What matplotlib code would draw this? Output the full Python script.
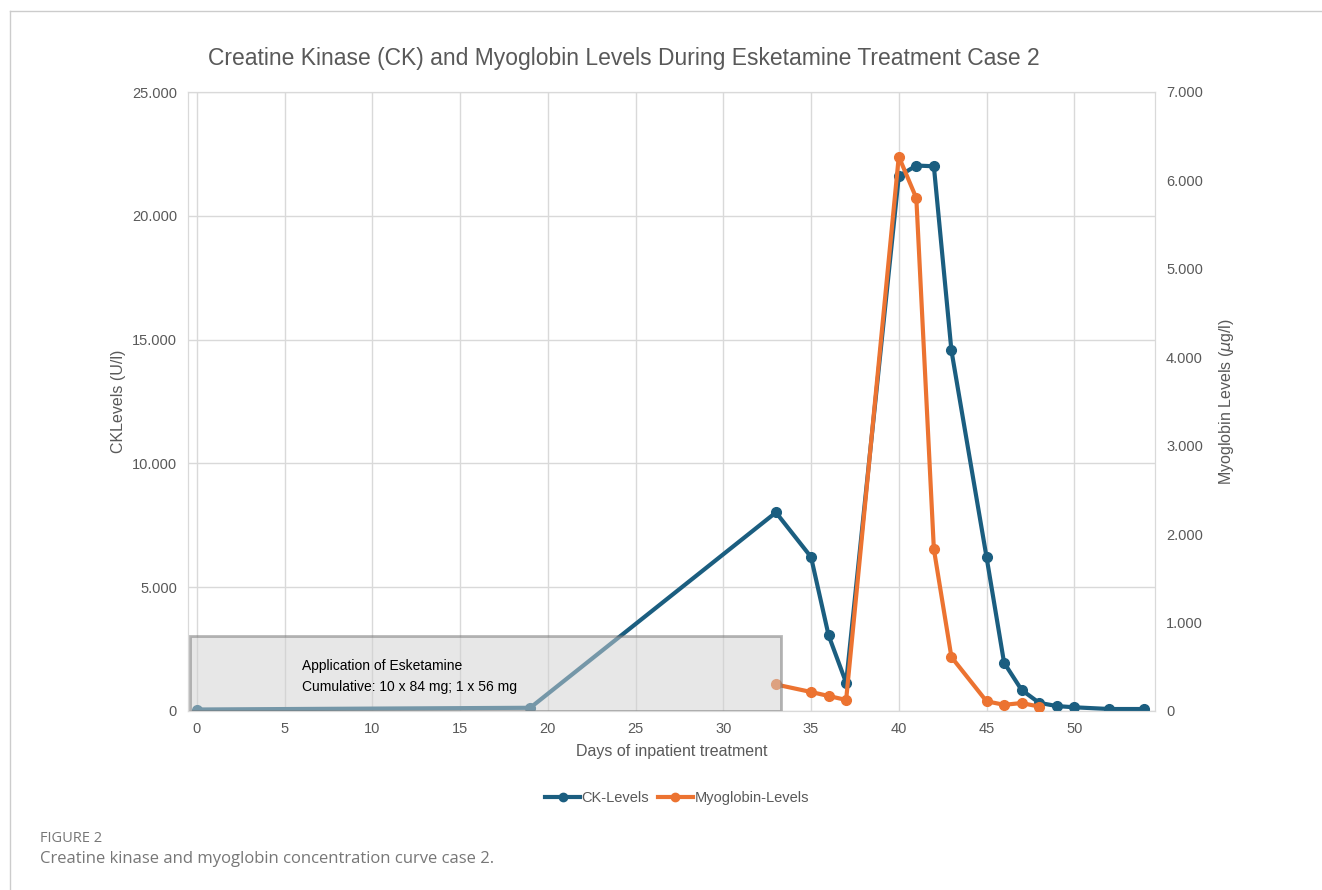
import matplotlib.pyplot as plt
from matplotlib.ticker import FuncFormatter
from matplotlib.patches import Rectangle
from matplotlib.lines import Line2D

plt.rcParams['font.family'] = ['Liberation Sans', 'DejaVu Sans']

# CK levels (U/l)
ck_days = [0, 19, 33, 35, 36, 37, 40, 41, 42, 43, 45, 46, 47, 48, 49, 50, 52, 54]
ck_vals = [60, 130, 8020, 6220, 3060, 1140, 21600, 22030, 22000, 14560, 6220,
           1950, 850, 330, 200, 150, 80, 80]

# Myoglobin levels (ug/l)
myo_days = [33, 35, 36, 37, 40, 41, 42, 43, 45, 46, 47, 48]
myo_vals = [300, 215, 170, 125, 6270, 5800, 1830, 610, 110, 70, 90, 50]

ck_color = '#1b5e80'
myo_color = '#ec7331'
txt = '#595959'
grid_c = '#d9d9d9'

fig = plt.figure(figsize=(13.22, 8.9), dpi=100)
ax = fig.add_axes([188 / 1322, 1 - 711 / 890, (1155 - 188) / 1322, (711 - 92) / 890])
ax2 = ax.twinx()

ax.plot(ck_days, ck_vals, color=ck_color, lw=3, marker='o', ms=7, zorder=3)
ax2.plot(myo_days, myo_vals, color=myo_color, lw=3, marker='o', ms=7, zorder=3)

ax.set_xlim(-0.5, 54.6)
ax.set_ylim(0, 25000)
ax2.set_ylim(0, 7000)
ax.set_xticks(range(0, 55, 5))
ax.set_yticks(range(0, 25001, 5000))
ax2.set_yticks(range(0, 7001, 1000))

fmt = FuncFormatter(lambda v, p: '0' if v == 0 else f'{int(v):,}'.replace(',', '.'))
ax.yaxis.set_major_formatter(fmt)
ax2.yaxis.set_major_formatter(fmt)

ax.grid(True, color=grid_c, lw=1)
ax.set_axisbelow(True)
for a in (ax, ax2):
    for s in a.spines.values():
        s.set_color(grid_c)
    a.tick_params(length=0, labelsize=10.5, colors=txt, pad=8)

ax.set_xlabel('Days of inpatient treatment', fontsize=11.5, color=txt, labelpad=6)
ax.set_ylabel('CKLevels (U/l)', fontsize=11.5, color=txt, labelpad=4)
ax2.set_ylabel('Myoglobin Levels ($\\mu$g/l)', fontsize=11.5, color=txt, labelpad=10)

# esketamine application box, drawn over the lines (semi-transparent)
box = Rectangle((-0.4, 0), 33.7, 3030, transform=ax.transData,
                facecolor='#d0d0d0', alpha=0.5, edgecolor='#707070', lw=2, zorder=5)
ax2.add_patch(box)
box.set_transform(ax.transData)
ax2.text(6, 700, 'Application of Esketamine\nCumulative: 10 x 84 mg; 1 x 56 mg',
         transform=ax.transData, fontsize=10, color='black', linespacing=1.6,
         va='bottom', zorder=6)

fig.text(624 / 1322, 1 - 58 / 890,
         'Creatine Kinase (CK) and Myoglobin Levels During Esketamine Treatment Case 2',
         ha='center', va='center', fontsize=16.5, color=txt)

handles = [Line2D([], [], color=ck_color, lw=3, marker='o', ms=6),
           Line2D([], [], color=myo_color, lw=3, marker='o', ms=6)]
fig.legend(handles, ['CK-Levels', 'Myoglobin-Levels'], loc='center',
           bbox_to_anchor=(677 / 1322, 1 - 798 / 890), ncol=2, frameon=False,
           fontsize=10.5, handlelength=2.4, handletextpad=0.1, columnspacing=0.6,
           labelcolor=txt)

# figure frame lines
fig.add_artist(Line2D([10 / 1322, 10 / 1322], [0, 1 - 11 / 890], transform=fig.transFigure,
                      color='#cccccc', lw=1))
fig.add_artist(Line2D([10 / 1322, 1], [1 - 11 / 890, 1 - 11 / 890], transform=fig.transFigure,
                      color='#cccccc', lw=1))

fig.text(40 / 1322, 1 - 838 / 890, 'FIGURE 2', fontsize=10.5, color='#777777',
         family=['Open Sans', 'DejaVu Sans'], va='center')
fig.text(40 / 1322, 1 - 859 / 890, 'Creatine kinase and myoglobin concentration curve case 2.',
         fontsize=12, color='#777777', family=['Open Sans', 'DejaVu Sans'], va='center')

fig.savefig('out.png', dpi=100)
